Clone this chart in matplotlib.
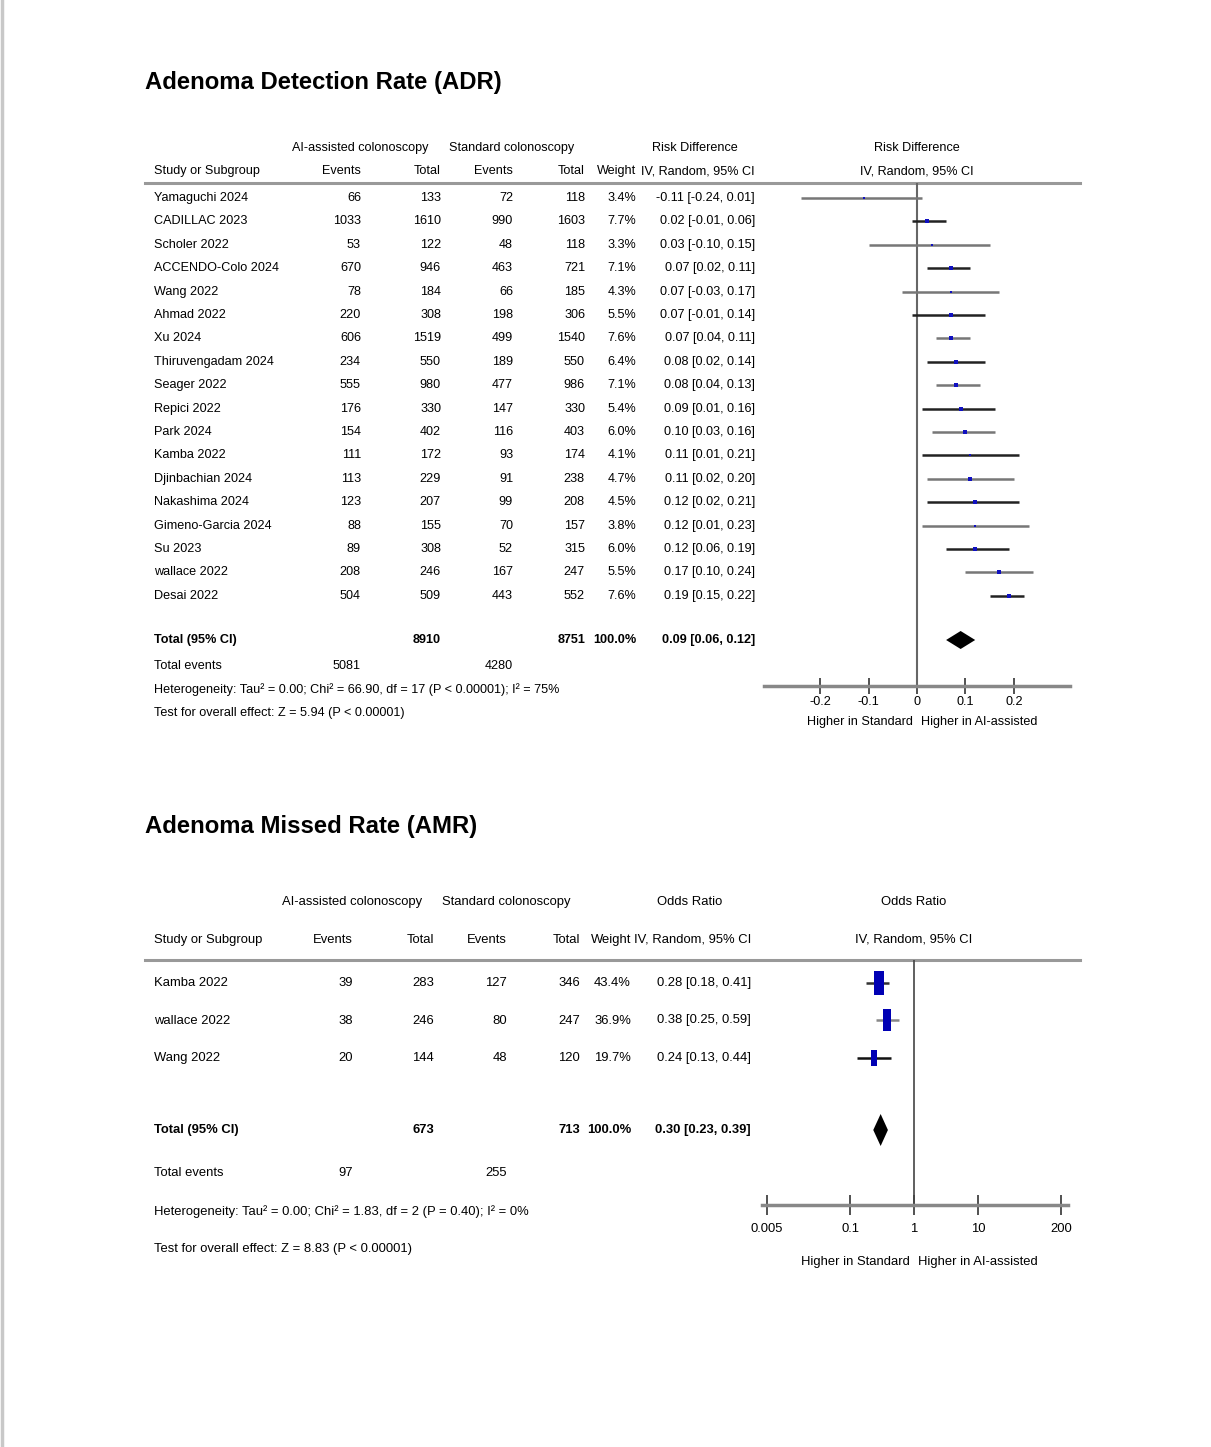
""" Forest plots: ADR and AMR, AI-assisted vs standard colonoscopy """

import numpy as np
import matplotlib
matplotlib.use("Agg")
import matplotlib.pyplot as plt

""" Data """

# Adenoma Detection Rate (ADR)
adr_study = ['Yamaguchi 2024', 'CADILLAC 2023', 'Scholer 2022', 'ACCENDO-Colo 2024', 'Wang 2022',
             'Ahmad 2022', 'Xu 2024', 'Thiruvengadam 2024', 'Seager 2022', 'Repici 2022', 'Park 2024',
             'Kamba 2022', 'Djinbachian 2024', 'Nakashima 2024', 'Gimeno-Garcia 2024', 'Su 2023',
             'wallace 2022', 'Desai 2022']
adr_ai_events = [66, 1033, 53, 670, 78, 220, 606, 234, 555, 176, 154, 111, 113, 123, 88, 89, 208, 504]
adr_ai_total = [133, 1610, 122, 946, 184, 308, 1519, 550, 980, 330, 402, 172, 229, 207, 155, 308, 246, 509]
adr_std_events = [72, 990, 48, 463, 66, 198, 499, 189, 477, 147, 116, 93, 91, 99, 70, 52, 167, 443]
adr_std_total = [118, 1603, 118, 721, 185, 306, 1540, 550, 986, 330, 403, 174, 238, 208, 157, 315, 247, 552]
adr_weight = [3.4, 7.7, 3.3, 7.1, 4.3, 5.5, 7.6, 6.4, 7.1, 5.4, 6.0, 4.1, 4.7, 4.5, 3.8, 6.0, 5.5, 7.6]
adr_rd = [-0.11, 0.02, 0.03, 0.07, 0.07, 0.07, 0.07, 0.08, 0.08, 0.09, 0.10, 0.11, 0.11, 0.12, 0.12, 0.12, 0.17, 0.19]
adr_lo = [-0.24, -0.01, -0.10, 0.02, -0.03, -0.01, 0.04, 0.02, 0.04, 0.01, 0.03, 0.01, 0.02, 0.02, 0.01, 0.06, 0.10, 0.15]
adr_hi = [0.01, 0.06, 0.15, 0.11, 0.17, 0.14, 0.11, 0.14, 0.13, 0.16, 0.16, 0.21, 0.20, 0.21, 0.23, 0.19, 0.24, 0.22]
adr_total = [8910, 8751]
adr_total_events = [5081, 4280]
adr_pooled = [0.09, 0.06, 0.12]
adr_ticks = [-0.2, -0.1, 0, 0.1, 0.2]
adr_ticklabels = ['-0.2', '-0.1', '0', '0.1', '0.2']
adr_het = "Heterogeneity: Tau\u00b2 = 0.00; Chi\u00b2 = 66.90, df = 17 (P < 0.00001); I\u00b2 = 75%"
adr_test = "Test for overall effect: Z = 5.94 (P < 0.00001)"

# Adenoma Missed Rate (AMR)
amr_study = ['Kamba 2022', 'wallace 2022', 'Wang 2022']
amr_ai_events = [39, 38, 20]
amr_ai_total = [283, 246, 144]
amr_std_events = [127, 80, 48]
amr_std_total = [346, 247, 120]
amr_weight = [43.4, 36.9, 19.7]
amr_or = [0.28, 0.38, 0.24]
amr_lo = [0.18, 0.25, 0.13]
amr_hi = [0.41, 0.59, 0.44]
amr_total = [673, 713]
amr_total_events = [97, 255]
amr_pooled = [0.30, 0.23, 0.39]
amr_ticks = [0.005, 0.1, 1, 10, 200]
amr_ticklabels = ['0.005', '0.1', '1', '10', '200']
amr_het = "Heterogeneity: Tau\u00b2 = 0.00; Chi\u00b2 = 1.83, df = 2 (P = 0.40); I\u00b2 = 0%"
amr_test = "Test for overall effect: Z = 8.83 (P < 0.00001)"

""" Figure setup """

W, H = 1211, 1447
plt.rcParams['font.family'] = ['Liberation Sans', 'DejaVu Sans']

fig = plt.figure(figsize=(W / 100, H / 100), dpi=100)
fig.patch.set_facecolor('white')

page = fig.add_axes([0, 0, 1, 1])  # pixel coordinates for the table text
page.set_xlim(0, W)
page.set_ylim(H, 0)
page.axis('off')
page.axvline(2, color='#c8c8c8', lw=2.5)


def forest_axes(left, right, top, bottom):
    ax = fig.add_axes([left / W, 1 - bottom / H, (right - left) / W, (bottom - top) / H])
    ax.patch.set_alpha(0)
    ax.set_ylim(bottom, top)  # y in page pixels, rows share positions with text
    for s in ['top', 'left', 'right']:
        ax.spines[s].set_visible(False)
    ax.spines['bottom'].set_color('#888888')
    ax.spines['bottom'].set_linewidth(2.5)
    ax.set_yticks([])
    return ax


def table(rows_y, study, ai_ev, ai_tot, std_ev, std_tot, weight, ci_txt, cols, fs):
    for i, y in enumerate(rows_y):
        page.text(154, y, study[i], fontsize=fs, va='center', ha='left')
        page.text(cols[0], y, str(ai_ev[i]), fontsize=fs, va='center', ha='right')
        page.text(cols[1], y, str(ai_tot[i]), fontsize=fs, va='center', ha='right')
        page.text(cols[2], y, str(std_ev[i]), fontsize=fs, va='center', ha='right')
        page.text(cols[3], y, str(std_tot[i]), fontsize=fs, va='center', ha='right')
        page.text(cols[4], y, f"{weight[i]:.1f}%", fontsize=fs, va='center', ha='right')
        page.text(cols[5], y, ci_txt[i], fontsize=fs, va='center', ha='right')


""" ADR panel """

fs1 = 9.1
page.text(145, 83, "Adenoma Detection Rate (ADR)", fontsize=17.2, fontweight='bold',
          va='center', ha='left')
cols1 = [361, 441, 513, 585, 636, 755]
page.text(360, 148, "AI-assisted colonoscopy", fontsize=fs1, va='center', ha='center')
page.text(512, 148, "Standard colonoscopy", fontsize=fs1, va='center', ha='center')
page.text(695, 148, "Risk Difference", fontsize=fs1, va='center', ha='center')
page.text(917, 148, "Risk Difference", fontsize=fs1, va='center', ha='center')
page.text(917, 171, "IV, Random, 95% CI", fontsize=fs1, va='center', ha='center')
page.text(154, 171, "Study or Subgroup", fontsize=fs1, va='center', ha='left')
for c, lab in zip(cols1, ["Events", "Total", "Events", "Total", "Weight", "IV, Random, 95% CI"]):
    page.text(c, 171, lab, fontsize=fs1, va='center', ha='right')
page.plot([145, 1080], [183, 183], color='#999999', lw=2.2)

adr_rows = 198 + 23.4 * np.arange(len(adr_study))
adr_ci = [f"{r:.2f} [{l:.2f}, {h:.2f}]" for r, l, h in zip(adr_rd, adr_lo, adr_hi)]
table(adr_rows, adr_study, adr_ai_events, adr_ai_total, adr_std_events, adr_std_total,
      adr_weight, adr_ci, cols1, fs1)

y_tot1 = 640
page.text(154, y_tot1, "Total (95% CI)", fontsize=fs1, fontweight='bold', va='center')
page.text(cols1[1], y_tot1, str(adr_total[0]), fontsize=fs1, fontweight='bold', va='center', ha='right')
page.text(cols1[3], y_tot1, str(adr_total[1]), fontsize=fs1, fontweight='bold', va='center', ha='right')
page.text(cols1[4], y_tot1, "100.0%", fontsize=fs1, fontweight='bold', va='center', ha='right')
page.text(cols1[5], y_tot1, f"{adr_pooled[0]:.2f} [{adr_pooled[1]:.2f}, {adr_pooled[2]:.2f}]",
          fontsize=fs1, fontweight='bold', va='center', ha='right')
page.text(154, 666, "Total events", fontsize=fs1, va='center')
page.text(cols1[0], 666, str(adr_total_events[0]), fontsize=fs1, va='center', ha='right')
page.text(cols1[2], 666, str(adr_total_events[1]), fontsize=fs1, va='center', ha='right')
page.text(154, 690, adr_het, fontsize=fs1, va='center')
page.text(154, 713, adr_test, fontsize=fs1, va='center')
page.text(913, 722, "Higher in Standard", fontsize=fs1, va='center', ha='right')
page.text(921, 722, "Higher in AI-assisted", fontsize=fs1, va='center', ha='left')

ax1 = forest_axes(764, 1070, 183, 686)
ax1.set_xlim(-0.3155, 0.3155)
ax1.axvline(0, color='#666666', lw=1.5)
line_cols = ['#777777', '#222222']
for i, y in enumerate(adr_rows):
    ax1.plot([adr_lo[i], adr_hi[i]], [y, y], color=line_cols[i % 2], lw=1.8, solid_capstyle='butt')
    ax1.plot(adr_rd[i], y, marker='s', color='#1010c0', ms=1.2 + 0.22 * adr_weight[i], mew=0)
d_h = 9
ax1.fill([adr_pooled[1], adr_pooled[0], adr_pooled[2], adr_pooled[0]],
         [y_tot1, y_tot1 - d_h, y_tot1, y_tot1 + d_h], color='black', lw=0)
ax1.set_xticks(adr_ticks)
ax1.set_xticklabels(adr_ticklabels, fontsize=fs1)
ax1.tick_params(axis='x', direction='inout', length=12, width=1.2, color='#333333', pad=1)

""" AMR panel """

fs2 = 9.4
page.text(145, 827, "Adenoma Missed Rate (AMR)", fontsize=17.2, fontweight='bold',
          va='center', ha='left')
cols2 = [353, 434, 507, 580, 631, 751]
page.text(352, 902, "AI-assisted colonoscopy", fontsize=fs2, va='center', ha='center')
page.text(506, 902, "Standard colonoscopy", fontsize=fs2, va='center', ha='center')
page.text(690, 902, "Odds Ratio", fontsize=fs2, va='center', ha='center')
page.text(914, 902, "Odds Ratio", fontsize=fs2, va='center', ha='center')
page.text(914, 940, "IV, Random, 95% CI", fontsize=fs2, va='center', ha='center')
page.text(154, 940, "Study or Subgroup", fontsize=fs2, va='center', ha='left')
for c, lab in zip(cols2, ["Events", "Total", "Events", "Total", "Weight", "IV, Random, 95% CI"]):
    page.text(c, 940, lab, fontsize=fs2, va='center', ha='right')
page.plot([145, 1080], [960, 960], color='#999999', lw=2.2)

amr_rows = 983 + 37.5 * np.arange(len(amr_study))
amr_ci = [f"{r:.2f} [{l:.2f}, {h:.2f}]" for r, l, h in zip(amr_or, amr_lo, amr_hi)]
table(amr_rows, amr_study, amr_ai_events, amr_ai_total, amr_std_events, amr_std_total,
      amr_weight, amr_ci, cols2, fs2)

y_tot2 = 1130
page.text(154, y_tot2, "Total (95% CI)", fontsize=fs2, fontweight='bold', va='center')
page.text(cols2[1], y_tot2, str(amr_total[0]), fontsize=fs2, fontweight='bold', va='center', ha='right')
page.text(cols2[3], y_tot2, str(amr_total[1]), fontsize=fs2, fontweight='bold', va='center', ha='right')
page.text(cols2[4], y_tot2, "100.0%", fontsize=fs2, fontweight='bold', va='center', ha='right')
page.text(cols2[5], y_tot2, f"{amr_pooled[0]:.2f} [{amr_pooled[1]:.2f}, {amr_pooled[2]:.2f}]",
          fontsize=fs2, fontweight='bold', va='center', ha='right')
page.text(154, 1173, "Total events", fontsize=fs2, va='center')
page.text(cols2[0], 1173, str(amr_total_events[0]), fontsize=fs2, va='center', ha='right')
page.text(cols2[2], 1173, str(amr_total_events[1]), fontsize=fs2, va='center', ha='right')
page.text(154, 1212, amr_het, fontsize=fs2, va='center')
page.text(154, 1249, amr_test, fontsize=fs2, va='center')
page.text(910, 1262, "Higher in Standard", fontsize=fs2, va='center', ha='right')
page.text(918, 1262, "Higher in AI-assisted", fontsize=fs2, va='center', ha='left')

ax2 = forest_axes(762, 1068, 960, 1205)
ax2.set_xscale('log')
ax2.set_xlim(10 ** -2.38, 10 ** 2.41)
ax2.axvline(1, color='#444444', lw=1.2)
tall_box = [(-0.4, -1), (0.4, -1), (0.4, 1), (-0.4, 1), (-0.4, -1)]
amr_line_cols = ['#333333', '#888888', '#111111']
for i, y in enumerate(amr_rows):
    ax2.plot([amr_lo[i], amr_hi[i]], [y, y], color=amr_line_cols[i], lw=1.8, solid_capstyle='butt')
    ax2.plot(amr_or[i], y, marker=tall_box, color='#0000b4', ms=7 + 0.24 * amr_weight[i], mew=0)
d_h2 = 16
ax2.fill([amr_pooled[1], amr_pooled[0], amr_pooled[2], amr_pooled[0]],
         [y_tot2, y_tot2 - d_h2, y_tot2, y_tot2 + d_h2], color='black', lw=0)
ax2.set_xticks(amr_ticks)
ax2.set_xticklabels(amr_ticklabels, fontsize=fs2)
ax2.minorticks_off()
ax2.tick_params(axis='x', direction='inout', length=14, width=1.2, color='#333333', pad=6)

plt.savefig("out.png", dpi=100)
